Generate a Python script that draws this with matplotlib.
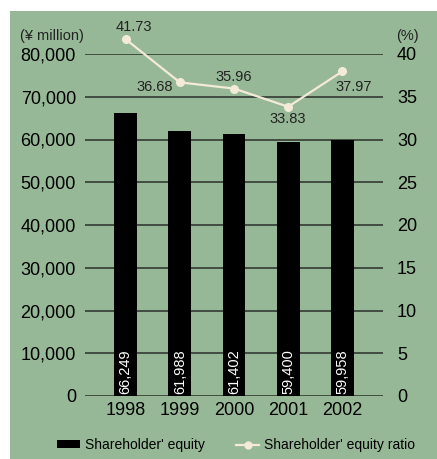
import matplotlib.pyplot as plt
from matplotlib.patches import Rectangle
from matplotlib.lines import Line2D

years = ['1998', '1999', '2000', '2001', '2002']
equity = [66249, 61988, 61402, 59400, 59958]
ratio = [41.73, 36.68, 35.96, 33.83, 37.97]
left_ticks = [0, 10000, 20000, 30000, 40000, 50000, 60000, 70000, 80000]
right_ticks = [0, 5, 10, 15, 20, 25, 30, 35, 40]

bg = '#97b897'
cream = '#f3ead8'
plt.rcParams['font.family'] = ['Liberation Sans', 'DejaVu Sans']

fig = plt.figure(figsize=(4.37, 4.59), dpi=100)
fig.patches.append(Rectangle((10 / 437, 0), 1, 448 / 459, transform=fig.transFigure,
                             facecolor=bg, edgecolor='none', zorder=-10))

ax = fig.add_axes([85 / 437, 63 / 459, 298 / 437, 342 / 459])
ax.patch.set_visible(False)
x = range(len(years))

for v in left_ticks:
    ax.axhline(v, color='#2a2f2a', lw=1.1, zorder=1)
ax.bar(x, equity, width=0.42, color='black', zorder=2)
for i, v in enumerate(equity):
    ax.text(i, 500, f'{v:,}', rotation=90, color='white', fontsize=10.5,
            ha='center', va='bottom', zorder=3)

ax.set_xlim(-0.75, 4.75)
ax.set_ylim(0, 80000)
ax.set_yticks(left_ticks)
ax.set_yticklabels([f'{v:,}' for v in left_ticks], fontsize=13)
ax.set_xticks(list(x))
ax.set_xticklabels(years, fontsize=13)
ax.tick_params(length=0, pad=6.5)
ax.tick_params(axis='x', pad=4)
for s in ax.spines.values():
    s.set_visible(False)

ax2 = ax.twinx()
ax2.patch.set_visible(False)
ax2.set_ylim(0, 40)
ax2.set_yticks(right_ticks)
ax2.set_yticklabels([str(v) for v in right_ticks], fontsize=13)
ax2.tick_params(length=0, pad=10)
for s in ax2.spines.values():
    s.set_visible(False)
ax2.plot(x, ratio, color=cream, lw=1.6, marker='o', ms=5.5, clip_on=False, zorder=4)

# label offsets in points, one per year
offsets = [(6, 9), (-18, -3.6), (0, 8), (0, -8.6), (8, -11)]
for i, (v, off) in enumerate(zip(ratio, offsets)):
    ax2.annotate(f'{v:.2f}', (i, v), xytext=off, textcoords='offset points',
                 ha='center', va='center', fontsize=10.5, color='#222222',
                 annotation_clip=False)

fig.text(52 / 437, 1 - 36 / 459, '(¥ million)', ha='center', va='center', fontsize=10.5, color='#222222')
fig.text(407 / 437, 1 - 36 / 459, '(%)', ha='center', va='center', fontsize=10.5, color='#222222')

handles = [Rectangle((0, 0), 1, 1, facecolor='black'),
           Line2D([], [], color=cream, lw=1.6, marker='o', ms=5)]
fig.legend(handles, ["Shareholder' equity", "Shareholder' equity ratio"],
           loc='center', bbox_to_anchor=(236 / 437, 1 - 445 / 459), ncol=2,
           frameon=False, handlelength=1.65, handleheight=0.45,
           columnspacing=2.3, handletextpad=0.35,
           prop={'family': ['Liberation Sans Narrow', 'Liberation Sans'], 'size': 10})

fig.savefig('out.png', dpi=100)
